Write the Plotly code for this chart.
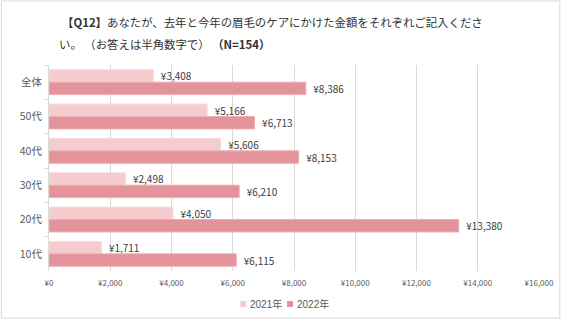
import plotly.graph_objects as go

# Eyebrow-care spending per respondent group, last year vs this year
categories = ["全体", "50代", "40代", "30代", "20代", "10代"]
spend_2021 = [3408, 5166, 5606, 2498, 4050, 1711]
spend_2022 = [8386, 6713, 8153, 6210, 13380, 6115]
series_names = ["2021年", "2022年"]
x_ticks = [0, 2000, 4000, 6000, 8000, 10000, 12000, 14000, 16000]
x_tick_labels = ["¥" + f"{v:,}" for v in x_ticks]

title_line1 = "<b>【Q12】</b>あなたが、去年と今年の眉毛のケアにかけた金額をそれぞれご記入くださ"
title_line2 = "い。 （お答えは半角数字で） <b>（N=154）</b>"

colors = ["#F4CCCD", "#E5939A"]
edge_colors = ["#F8DCDD", "#EDAFB4"]

W, H = 566, 321
ML, MR, MT, MB = 49, 23, 65, 50
PW, PH = W - ML - MR, H - MT - MB

def px_x(p):
    return (p - ML) / PW

def px_y(p):
    return (H - MB - p) / PH

JP = "Noto Sans CJK JP"
NUM = "Liberation Sans Narrow, Noto Sans CJK JP"
NBSP = "\u00a0"

fig = go.Figure()
for name, vals, c, ec in zip(series_names, [spend_2021, spend_2022], colors, edge_colors):
    fig.add_trace(go.Bar(
        y=categories, x=vals, name=name, orientation="h",
        marker=dict(color=c, line=dict(color=ec, width=1)),
        text=[NBSP * 2 + "¥" + f"{v:,}" for v in vals],
        textposition="outside", constraintext="none", cliponaxis=False,
        textfont=dict(family=NUM, size=10, color="#404040"),
        showlegend=False,
    ))

fig.update_layout(
    width=W, height=H,
    margin=dict(l=ML, r=MR, t=MT, b=MB),
    paper_bgcolor="white", plot_bgcolor="white",
    barmode="group", bargap=0.275, bargroupgap=0,
    font=dict(family=JP, color="#595959"),
    xaxis=dict(
        range=[0, 16000], tickvals=x_ticks, ticktext=x_tick_labels,
        showgrid=True, gridcolor="#D9D9D9", gridwidth=1,
        zeroline=False, showline=False, ticks="",
        tickfont=dict(family=NUM, size=8, color="#595959"),
        ticklabelstandoff=6,
    ),
    yaxis=dict(
        categoryorder="array", categoryarray=categories, autorange="reversed",
        showline=True, linecolor="#D9D9D9", linewidth=1,
        ticks="outside", tickson="boundaries", ticklen=4, tickcolor="#D9D9D9",
        tickfont=dict(family=JP, size=10.5, color="#595959"),
        ticklabelstandoff=4, showgrid=False,
    ),
)

annotations = [
    dict(text=title_line1, x=px_x(60), y=px_y(22), xref="paper", yref="paper",
         xanchor="left", yanchor="middle", showarrow=False,
         font=dict(family=JP, size=11.4, color="#333333")),
    dict(text=title_line2, x=px_x(57), y=px_y(44), xref="paper", yref="paper",
         xanchor="left", yanchor="middle", showarrow=False,
         font=dict(family=JP, size=11.4, color="#333333")),
]
shapes = []
# Legend: colour swatch followed by the series name
legend_x = [242, 289]
for name, c, lx in zip(series_names, colors, legend_x):
    shapes.append(dict(type="rect", xref="paper", yref="paper",
                       x0=px_x(lx), x1=px_x(lx + 6), y0=px_y(307), y1=px_y(301),
                       fillcolor=c, line=dict(width=0)))
    annotations.append(dict(
        text=name, x=px_x(lx + 8), y=px_y(303.5),
        xref="paper", yref="paper", xanchor="left", yanchor="middle",
        showarrow=False, font=dict(family="Liberation Sans, Noto Sans CJK JP", size=10, color="#595959")))

# Outer chart frame
shapes.append(dict(type="rect", xref="paper", yref="paper",
                   x0=px_x(1), x1=px_x(564), y0=px_y(318), y1=px_y(1),
                   line=dict(color="#D9D9D9", width=1), fillcolor="rgba(0,0,0,0)", layer="below"))
fig.update_layout(annotations=annotations, shapes=shapes)

fig.write_html("out.html")
